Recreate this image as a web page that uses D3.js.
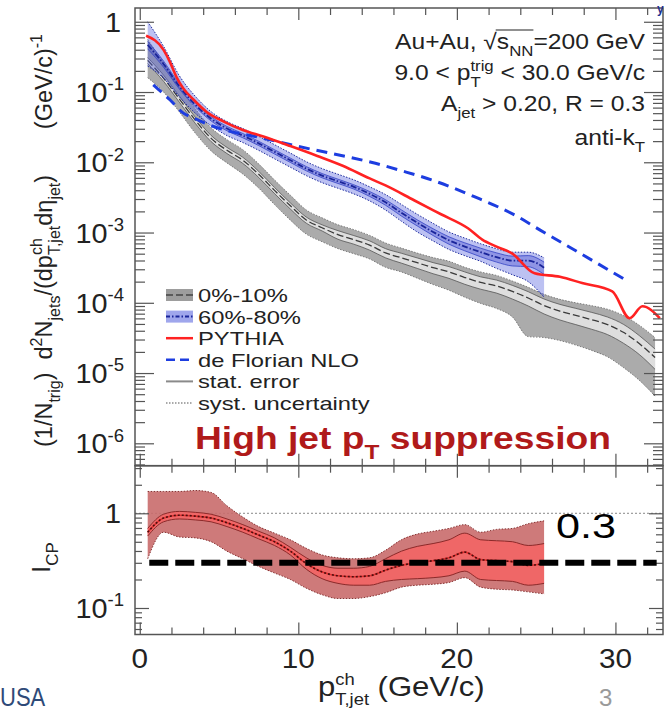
<!DOCTYPE html>
<html>
<head>
<meta charset="utf-8">
<script src="https://cdn.jsdelivr.net/npm/d3@7"></script>
<style>
  html, body { margin: 0; padding: 0; background: #fff; }
  svg { display: block; }
  text { font-family: "Liberation Sans", Arial, Helvetica, sans-serif; white-space: pre; }
</style>
</head>
<body>
<svg id="chart" width="672" height="712"></svg>
<script>
// ---------------- data ----------------
// 0%-10% central Au+Au, per-trigger charged-jet yield
const centralPt = [0.5,1.5,2.5,3.5,4.5,5.5,6.5,7.5,8.5,9.5,10.5,11.5,12.5,13.5,14.5,15.5,16.5,17.5,18.5,19.5,20.5,21.5,22.5,23.5,24.5,25.5,26.5,27.5,28.5,29.5,30.5,31.5,32.5];
const central = [0.282,0.158,0.0794,0.0398,0.0219,0.0148,0.0107,0.00676,0.00398,0.00240,0.00151,0.00117,0.000933,0.000794,0.000661,0.000513,0.000437,0.000372,0.000316,0.000275,0.000229,0.000195,0.000174,0.000145,0.000117,0.0000912,0.0000759,0.0000661,0.0000575,0.0000490,0.0000380,0.0000263,0.0000166];
const centralSysHi = [0.56,0.26,0.12,0.058,0.031,0.021,0.0151,0.0095,0.0056,0.0034,0.0021,0.00162,0.00129,0.0011,0.00091,0.00071,0.0006,0.00051,0.00044,0.00039,0.00032,0.000275,0.000245,0.000204,0.000166,0.000132,0.000112,0.0001,0.000091,0.000081,0.000066,0.000048,0.000032];
const centralSysLo = [0.16,0.10,0.052,0.026,0.0145,0.0098,0.0068,0.0043,0.0025,0.0015,0.00095,0.00074,0.00059,0.0005,0.00042,0.00032,0.000275,0.000224,0.000182,0.000151,0.00012,0.000098,0.000083,0.000063,0.000033,0.000032,0.000029,0.000025,0.000021,0.000017,0.000012,0.0000079,0.0000047];
const centralStatErr = [0.1,0.1,0.1,0.1,0.1,0.1,0.1,0.1,0.1,0.1,0.1,0.1,0.14,0.14,0.15,0.15,0.16,0.17,0.18,0.19,0.2,0.2,0.21,0.22,0.23,0.24,0.25,0.26,0.27,0.28,0.3,0.3,0.32];

// 60%-80% peripheral Au+Au
const periphPt = [0.5,1.5,2.5,3.5,4.5,5.5,6.5,7.5,8.5,9.5,10.5,11.5,12.5,13.5,14.5,15.5,16.5,17.5,18.5,19.5,20.5,21.5,22.5,23.5,24.5,25.5];
const periph = [0.468,0.251,0.120,0.0661,0.0417,0.0302,0.0240,0.0186,0.0141,0.0107,0.00813,0.00646,0.00537,0.00447,0.00355,0.00269,0.00191,0.00138,0.00102,0.000776,0.000631,0.000525,0.000447,0.000398,0.000398,0.000316];
const periphSysHi = [1.0,0.447,0.170,0.087,0.0525,0.038,0.0302,0.0234,0.0178,0.0135,0.0102,0.00813,0.00676,0.00562,0.00447,0.00347,0.00251,0.00182,0.00135,0.00102,0.000832,0.000692,0.000589,0.000525,0.000525,0.000437];
const periphSysLo = [0.234,0.158,0.085,0.050,0.0331,0.024,0.0191,0.0148,0.0112,0.0085,0.00646,0.00513,0.00427,0.00355,0.00282,0.00209,0.00145,0.00102,0.00076,0.000575,0.000468,0.000389,0.000309,0.000251,0.0002,0.00012];
const periphStatErr = [0.12,0.1,0.08,0.07,0.07,0.07,0.07,0.07,0.07,0.07,0.07,0.07,0.07,0.07,0.08,0.09,0.1,0.1,0.11,0.12,0.13,0.14,0.15,0.16,0.18,0.2];

// PYTHIA reference
const pythiaPt = [0.4,1.5,1.9,2.3,2.75,3.4,4.2,5.3,6.5,7.8,9.5,11.2,12.8,14.5,15.5,17.3,19.0,20.7,21.6,22.5,23.5,24.9,26.5,27.9,29.8,30.9,31.7,32.8];
const pythia = [0.631,0.398,0.269,0.166,0.112,0.0776,0.0525,0.038,0.0288,0.0232,0.0170,0.0123,0.00891,0.00589,0.00468,0.00288,0.00182,0.00115,0.000794,0.000631,0.000501,0.000263,0.000234,0.000191,0.000145,0.0000603,0.0000891,0.0000603];

// de Florian NLO
const nloPt = [0.85,1.9,2.75,3.4,4.4,5.7,7.0,8.2,9.9,11.6,13.3,14.6,16.5,18.4,21.1,23.8,25.2,27.5,30.6];
const nlo = [0.126,0.0776,0.0501,0.0427,0.0339,0.0275,0.0240,0.0209,0.0170,0.0141,0.0117,0.0100,0.00759,0.00562,0.00324,0.0017,0.0011,0.00055,0.000214];

// I_CP = (0-10%) / (60-80%)
const icpPt = periphPt;
const icp = [0.63,0.89,0.955,0.933,0.891,0.794,0.692,0.589,0.501,0.398,0.295,0.240,0.219,0.214,0.219,0.251,0.282,0.302,0.316,0.339,0.389,0.324,0.316,0.309,0.282,0.295];
const icpSysHi = [1.70,1.70,1.70,1.74,1.66,1.20,0.912,0.724,0.617,0.525,0.427,0.363,0.339,0.331,0.339,0.407,0.525,0.603,0.646,0.692,0.759,0.631,0.676,0.692,0.776,0.832];
const icpSysLo = [0.331,0.631,0.562,0.550,0.501,0.398,0.331,0.275,0.234,0.200,0.162,0.138,0.126,0.126,0.132,0.145,0.166,0.174,0.178,0.186,0.209,0.166,0.158,0.155,0.148,0.141];
const icpStatHi = [0.692,0.977,1.047,1.023,0.977,0.871,0.759,0.646,0.550,0.437,0.339,0.282,0.263,0.263,0.275,0.331,0.398,0.447,0.479,0.525,0.617,0.525,0.513,0.501,0.457,0.479];
const icpStatLo = [0.575,0.813,0.871,0.851,0.813,0.724,0.631,0.537,0.457,0.363,0.257,0.204,0.182,0.174,0.174,0.191,0.200,0.204,0.209,0.219,0.245,0.200,0.195,0.191,0.174,0.182];
const icpLevel = 0.3;          // suppression level marked in the ratio panel
const icpUnity = 1;

// axis ticks
const xTicks = [0, 10, 20, 30];
const xMinor = [2,4,6,8,12,14,16,18,22,24,26,28,32];
const yTopTicks = [1, 1e-1, 1e-2, 1e-3, 1e-4, 1e-5, 1e-6];
const yTopExp = [0, -1, -2, -3, -4, -5, -6];
const yBotTicks = [1, 0.1];
const yBotExp = [0, -1];

const legendLabels = ["0%-10%", "60%-80%", "PYTHIA", "de Florian NLO", "stat. error", "syst. uncertainty"];

// ---------------- layout ----------------
const W = 672, H = 712;
const L = 135, R = 663, T = 8, MID = 465.7, B = 634.5;

const x = d3.scaleLinear().domain([-0.3, 33]).range([L, R]);
const yTop = d3.scaleLog().domain([4.8e-7, 1.57]).range([MID, T]);
const yBot = d3.scaleLog().domain([0.0525, 3.18]).range([B, MID]);

const svg = d3.select("#chart");
svg.append("rect").attr("width", W).attr("height", H).attr("fill", "#fff");

const defs = svg.append("defs");
defs.append("clipPath").attr("id", "clipTop").append("rect")
  .attr("x", L).attr("y", T).attr("width", R - L).attr("height", MID - T);
defs.append("clipPath").attr("id", "clipBot").append("rect")
  .attr("x", L).attr("y", MID).attr("width", R - L).attr("height", B - MID);

// rich text helper: segments {t, m} with m = 1 (superscript), -1 (subscript), 0 normal,
// or {stack:[sup, sub]} for a superscript stacked over a subscript
function rich(textSel, segs, base, small) {
  const supOff = -0.42 * base, subOff = 0.32 * base;
  let cur = 0, pendingDx = 0;
  segs.forEach(s => {
    if (s.stack) {
      const a = textSel.append("tspan").attr("font-size", small)
        .attr("dy", supOff - cur).attr("dx", pendingDx).text(s.stack[0]);
      const wa = a.node().getComputedTextLength();
      const b = textSel.append("tspan").attr("font-size", small)
        .attr("dx", -wa).attr("dy", subOff - supOff).text(s.stack[1]);
      const wb = b.node().getComputedTextLength();
      pendingDx = Math.max(0, wa - wb);
      cur = subOff;
    } else {
      const off = s.m === 1 ? supOff : s.m === -1 ? subOff : 0;
      const ts = textSel.append("tspan").attr("dy", off - cur).attr("dx", pendingDx).text(s.t);
      if (s.m) ts.attr("font-size", small);
      pendingDx = 0;
      cur = off;
    }
  });
  return textSel;
}
// text placed at (px, py) with a horizontal stretch of the glyphs
function label(parent, px, py, sx, size, anchor) {
  return parent.append("text")
    .attr("transform", `translate(${px},${py}) scale(${sx},1)`)
    .attr("text-anchor", anchor || "start").attr("font-size", size).attr("fill", "#222");
}

// ---------------- spectrum panel ----------------
const gTop = svg.append("g").attr("clip-path", "url(#clipTop)");

const rowsOf = (xs, v, lo, hi, se) => xs.map((p, i) => ({
  x: p, v: v[i], lo: lo[i], hi: hi[i], sLo: v[i] * (1 - se[i]), sHi: v[i] * (1 + se[i])
}));
const centralRows = rowsOf(centralPt, central, centralSysLo, centralSysHi, centralStatErr);
const periphRows = rowsOf(periphPt, periph, periphSysLo, periphSysHi, periphStatErr);

const bandArea = (ys, k0, k1) => d3.area().x(d => x(d.x))
  .y0(d => ys(d[k0])).y1(d => ys(d[k1])).curve(d3.curveMonotoneX);
const edgeLine = (ys, k) => d3.line().x(d => x(d.x)).y(d => ys(d[k])).curve(d3.curveMonotoneX);

// 0%-10% band
gTop.append("path").datum(centralRows).attr("d", bandArea(yTop, "lo", "hi"))
  .attr("fill", "#ababab");
gTop.append("path").datum(centralRows).attr("d", bandArea(yTop, "sLo", "sHi"))
  .attr("fill", "#dedede");
["lo", "hi"].forEach(k => gTop.append("path").datum(centralRows).attr("d", edgeLine(yTop, k))
  .attr("fill", "none").attr("stroke", "#666").attr("stroke-width", 0.8).attr("stroke-dasharray", "1.5,1.5"));
["sLo", "sHi"].forEach(k => gTop.append("path").datum(centralRows).attr("d", edgeLine(yTop, k))
  .attr("fill", "none").attr("stroke", "#555").attr("stroke-width", 0.8));
gTop.append("path").datum(centralRows).attr("d", edgeLine(yTop, "v"))
  .attr("fill", "none").attr("stroke", "#3a3a3a").attr("stroke-width", 1.3).attr("stroke-dasharray", "7,3");

// 60%-80% band
gTop.append("path").datum(periphRows).attr("d", bandArea(yTop, "lo", "hi"))
  .attr("fill", "rgb(80,92,220)").attr("fill-opacity", 0.38);
gTop.append("path").datum(periphRows).attr("d", bandArea(yTop, "sLo", "sHi"))
  .attr("fill", "rgb(60,70,205)").attr("fill-opacity", 0.35);
["lo", "hi"].forEach(k => gTop.append("path").datum(periphRows).attr("d", edgeLine(yTop, k))
  .attr("fill", "none").attr("stroke", "#1c2a9c").attr("stroke-width", 1).attr("stroke-dasharray", "1.5,1.5"));
["sLo", "sHi"].forEach(k => gTop.append("path").datum(periphRows).attr("d", edgeLine(yTop, k))
  .attr("fill", "none").attr("stroke", "#3343c4").attr("stroke-width", 0.8));
gTop.append("path").datum(periphRows).attr("d", edgeLine(yTop, "v"))
  .attr("fill", "none").attr("stroke", "#1a259a").attr("stroke-width", 1.8).attr("stroke-dasharray", "6,2,1.5,2");

// de Florian NLO
gTop.append("path").datum(nloPt.map((p, i) => ({ x: p, v: nlo[i] })))
  .attr("d", edgeLine(yTop, "v"))
  .attr("fill", "none").attr("stroke", "#1d3de0").attr("stroke-width", 3).attr("stroke-dasharray", "11,7");

// PYTHIA
gTop.append("path").datum(pythiaPt.map((p, i) => ({ x: p, v: pythia[i] })))
  .attr("d", edgeLine(yTop, "v"))
  .attr("fill", "none").attr("stroke", "#ff2222").attr("stroke-width", 2.6).attr("stroke-linejoin", "round");

// ---------------- ratio panel ----------------
const gBot = svg.append("g").attr("clip-path", "url(#clipBot)");
const icpRows = icpPt.map((p, i) => ({ x: p, v: icp[i], lo: icpSysLo[i], hi: icpSysHi[i], sLo: icpStatLo[i], sHi: icpStatHi[i] }));

gBot.append("line").attr("x1", L).attr("x2", R).attr("y1", yBot(icpUnity)).attr("y2", yBot(icpUnity))
  .attr("stroke", "#888").attr("stroke-width", 1).attr("stroke-dasharray", "2,2");
gBot.append("path").datum(icpRows).attr("d", bandArea(yBot, "lo", "hi"))
  .attr("fill", "#c96c6c").attr("fill-opacity", 0.9);
gBot.append("path").datum(icpRows).attr("d", bandArea(yBot, "sLo", "sHi"))
  .attr("fill", "#f46464").attr("fill-opacity", 0.85);
["lo", "hi"].forEach(k => gBot.append("path").datum(icpRows).attr("d", edgeLine(yBot, k))
  .attr("fill", "none").attr("stroke", "#7a2222").attr("stroke-width", 0.9).attr("stroke-dasharray", "1.5,1.5"));
["sLo", "sHi"].forEach(k => gBot.append("path").datum(icpRows).attr("d", edgeLine(yBot, k))
  .attr("fill", "none").attr("stroke", "#8b2a2a").attr("stroke-width", 1));
gBot.append("path").datum(icpRows).attr("d", edgeLine(yBot, "v"))
  .attr("fill", "none").attr("stroke", "#e03030").attr("stroke-width", 1.6);
gBot.append("path").datum(icpRows).attr("d", edgeLine(yBot, "v"))
  .attr("fill", "none").attr("stroke", "#4a0e0e").attr("stroke-width", 1.6).attr("stroke-dasharray", "2,2");

// ---------------- axes ----------------
const axisColor = "#555";
function styleAxis(g) {
  g.select(".domain").remove();
  g.selectAll(".tick line").attr("stroke", axisColor).attr("stroke-width", 1.2);
  g.selectAll(".tick text").remove();
}
function minorLog(lo, hi) {
  const out = [];
  for (let e = Math.floor(Math.log10(lo)); e <= Math.ceil(Math.log10(hi)); e++)
    for (let m = 2; m <= 9; m++) { const v = m * Math.pow(10, e); if (v > lo && v < hi) out.push(v); }
  return out;
}

// y axes, left and right, ticks pointing inward
[[d3.axisLeft, L], [d3.axisRight, R]].forEach(([ax, pos]) => {
  svg.append("g").attr("transform", `translate(${pos},0)`)
    .call(ax(yTop).tickValues(yTopTicks).tickSize(-19).tickSizeOuter(0)).call(styleAxis);
  svg.append("g").attr("transform", `translate(${pos},0)`)
    .call(ax(yTop).tickValues(minorLog(4.8e-7, 1.57)).tickSize(-10).tickSizeOuter(0)).call(styleAxis);
  svg.append("g").attr("transform", `translate(${pos},0)`)
    .call(ax(yBot).tickValues(yBotTicks).tickSize(-14).tickSizeOuter(0)).call(styleAxis);
  svg.append("g").attr("transform", `translate(${pos},0)`)
    .call(ax(yBot).tickValues(minorLog(0.0525, 3.18)).tickSize(-7).tickSizeOuter(0)).call(styleAxis);
});

// x axes at the top of each panel (ticks down) and bottom of each panel (ticks up)
[[d3.axisTop, T], [d3.axisBottom, MID], [d3.axisTop, MID], [d3.axisBottom, B]].forEach(([ax, pos]) => {
  svg.append("g").attr("transform", `translate(0,${pos})`)
    .call(ax(x).tickValues(xTicks).tickSize(-12).tickSizeOuter(0)).call(styleAxis);
  svg.append("g").attr("transform", `translate(0,${pos})`)
    .call(ax(x).tickValues(xMinor).tickSize(-7).tickSizeOuter(0)).call(styleAxis);
});

// frames
svg.append("rect").attr("x", L).attr("y", T).attr("width", R - L).attr("height", MID - T)
  .attr("fill", "none").attr("stroke", axisColor).attr("stroke-width", 1.5);
svg.append("rect").attr("x", L).attr("y", MID).attr("width", R - L).attr("height", B - MID)
  .attr("fill", "none").attr("stroke", axisColor).attr("stroke-width", 1.5);

// tick labels
const tickFont = 28, tickSup = 18;
function powLabel(yScale, v, e) {
  const t = label(svg, e === 0 ? 121 : 124, yScale(v) + 10, 1.03, tickFont, "end");
  if (e === 0) t.text("1");
  else rich(t, [{ t: "10" }, { t: String(e), m: 1 }], tickFont, tickSup);
}
yTopTicks.forEach((v, i) => powLabel(yTop, v, yTopExp[i]));
yBotTicks.forEach((v, i) => powLabel(yBot, v, yBotExp[i]));
xTicks.forEach(v => label(svg, x(v), 668, 1.06, tickFont, "middle").text(v));

// axis titles
const yTitle = svg.append("text").attr("transform", "translate(52,447) rotate(-90)")
  .attr("font-size", 23.5).attr("fill", "#222");
rich(yTitle, [
  { t: "(1/N" }, { t: "trig", m: -1 }, { t: ")  d" }, { t: "2", m: 1 }, { t: "N" }, { t: "jets", m: -1 },
  { t: "/(dp" }, { stack: ["ch", "T,jet"] }, { t: "dη" }, { t: "jet", m: -1 }, { t: ")       (GeV/c)" }, { t: "-1", m: 1 }
], 23.5, 16);

const icpTitle = svg.append("text").attr("transform", "translate(50,573) rotate(-90)")
  .attr("font-size", 26).attr("fill", "#222");
rich(icpTitle, [{ t: "I" }, { t: "CP", m: -1 }], 26, 17);

const xTitle = label(svg, 318, 696, 1.15, 27);
rich(xTitle, [{ t: "p" }, { stack: ["ch", "T,jet"] }, { t: " (GeV/c)" }], 27, 16);

// ---------------- annotations ----------------
const annFont = 22, annSmall = 15, annSx = 1.12;
function annLine(py, segs) {
  const g = svg.append("g").attr("transform", `translate(645,${py}) scale(${annSx},1)`);
  const t = g.append("text").attr("text-anchor", "end").attr("font-size", annFont).attr("fill", "#222");
  rich(t, segs, annFont, annSmall);
  return [g, t];
}
{
  const [g, t] = annLine(49, [{ t: "Au+Au, √s" }, { t: "NN", m: -1 }, { t: "=200 GeV" }]);
  const n = t.node();
  const r = n.getExtentOfChar(7), e = n.getExtentOfChar(10);
  const yb = -annFont * 0.86;
  g.append("line").attr("x1", r.x + r.width - 1).attr("x2", e.x + e.width)
    .attr("y1", yb).attr("y2", yb).attr("stroke", "#222").attr("stroke-width", 1);
}
annLine(80, [{ t: "9.0 < p" }, { stack: ["trig", "T"] }, { t: " < 30.0 GeV/c" }]);
annLine(111, [{ t: "A" }, { t: "jet", m: -1 }, { t: " > 0.20, R = 0.3" }]);
annLine(145, [{ t: "anti-k" }, { t: "T", m: -1 }]);

// ---------------- legend ----------------
const legY = [295, 316.6, 338.2, 359.8, 381.4, 403];
const lx0 = 166, lx1 = 193;
const leg = svg.append("g");
leg.append("rect").attr("x", lx0).attr("y", legY[0] - 6).attr("width", lx1 - lx0).attr("height", 12).attr("fill", "#9d9d9d");
leg.append("line").attr("x1", lx0).attr("x2", lx1).attr("y1", legY[0]).attr("y2", legY[0])
  .attr("stroke", "#444").attr("stroke-width", 1.5).attr("stroke-dasharray", "7,3");
leg.append("rect").attr("x", lx0).attr("y", legY[1] - 6).attr("width", lx1 - lx0).attr("height", 12)
  .attr("fill", "rgb(80,92,220)").attr("fill-opacity", 0.55);
leg.append("line").attr("x1", lx0).attr("x2", lx1).attr("y1", legY[1]).attr("y2", legY[1])
  .attr("stroke", "#1a259a").attr("stroke-width", 2).attr("stroke-dasharray", "4,2,1.5,2");
leg.append("line").attr("x1", lx0).attr("x2", lx1).attr("y1", legY[2]).attr("y2", legY[2])
  .attr("stroke", "#ff2222").attr("stroke-width", 2.5);
leg.append("line").attr("x1", lx0).attr("x2", lx1).attr("y1", legY[3]).attr("y2", legY[3])
  .attr("stroke", "#1d3de0").attr("stroke-width", 2.5).attr("stroke-dasharray", "9,5");
leg.append("line").attr("x1", lx0).attr("x2", lx1).attr("y1", legY[4]).attr("y2", legY[4])
  .attr("stroke", "#8a8a8a").attr("stroke-width", 2);
leg.append("line").attr("x1", lx0).attr("x2", lx1).attr("y1", legY[5]).attr("y2", legY[5])
  .attr("stroke", "#555").attr("stroke-width", 1.2).attr("stroke-dasharray", "1.5,1.5");
legendLabels.forEach((s, i) => label(leg, 198, legY[i] + 7, 1.25, 19).text(s));

// headline inside the spectrum panel
const head = label(svg, 195, 449, 1.22, 30.5).attr("font-weight", "bold").attr("fill", "#b01a1a");
rich(head, [{ t: "High jet p" }, { t: "T", m: -1 }, { t: " suppression" }], 30.5, 20);

// suppression level in the ratio panel
svg.append("line").attr("x1", x(0.6)).attr("x2", x(32.6))
  .attr("y1", yBot(icpLevel)).attr("y2", yBot(icpLevel))
  .attr("stroke", "#000").attr("stroke-width", 6).attr("stroke-dasharray", "19,7");
label(svg, 556, 538, 1.2, 36).attr("font-family", "'Open Sans', 'Noto Sans', sans-serif")
  .attr("fill", "#000").text(String(icpLevel));

// slide furniture
label(svg, 0, 706, 0.88, 25).attr("font-family", "'Open Sans', 'Noto Sans', sans-serif")
  .attr("fill", "#2e4a78").text("USA");
label(svg, 599, 706, 1, 24).attr("font-family", "'Open Sans', 'Noto Sans', sans-serif")
  .attr("fill", "#9a9a9a").text("3");
label(svg, 657, 13, 1, 12).attr("font-weight", "bold")
  .attr("font-family", "'Open Sans', 'Noto Sans', sans-serif").attr("fill", "#1f2f8f").text("y");
</script>
</body>
</html>
